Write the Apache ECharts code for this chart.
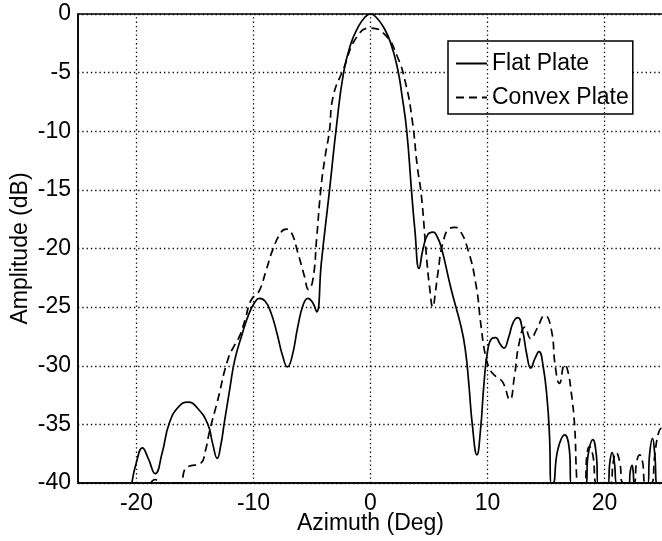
<!DOCTYPE html>
<html>
<head>
<meta charset="utf-8">
<script src="https://cdn.jsdelivr.net/npm/echarts@6/dist/echarts.min.js"></script>
<style>
html,body{margin:0;padding:0;background:#fff;}
#chart{width:662px;height:541px;}
</style>
</head>
<body>
<div id="chart"></div>
<script>
var xTicks = [-20, -10, 0, 10, 20];
var yTicks = [0, -5, -10, -15, -20, -25, -30, -35, -40];

var flatX = [-20.4, -20.0, -19.5, -19.0, -18.4, -17.8, -17.2, -16.4, -15.6, -14.8, -13.9, -13.5, -13.1, -12.8, -12.5, -12.0, -11.6, -11.0, -10.4, -9.9, -9.5, -9.0, -8.5, -8.0, -7.5, -7.1, -6.7, -6.2, -5.75, -5.35, -4.95, -4.6, -4.2, -3.5, -2.9, -2.3, -1.7, -1.1, -0.5, 0, 0.5, 1.1, 1.7, 2.3, 2.7, 3.1, 3.5, 3.8, 4.15, 4.5, 4.9, 5.35, 5.7, 6.05, 6.9, 7.75, 8.1, 8.4, 8.7, 9.1, 9.4, 9.7, 10.0, 10.35, 10.7, 11.05, 11.4, 11.8, 12.2, 12.6, 13.0, 13.35, 13.7, 14.05, 14.4, 14.75, 15.1, 15.3, 15.45, 15.6, 16.0, 16.6, 17.0, 17.15, 18.4, 18.6, 19.0, 19.3, 19.45, 20.3, 20.45, 20.65, 20.85, 21.05, 22.1, 22.2, 22.35, 22.45, 22.55, 23.7, 23.85, 24.1, 24.3, 24.5, 25.0];
var flatY = [-40, -38.2, -37.0, -37.9, -39.2, -37.4, -34.9, -33.5, -33.1, -33.6, -35.0, -36.6, -37.9, -36.8, -34.9, -31.8, -29.5, -27.4, -25.6, -24.6, -24.25, -24.5, -25.5, -27.2, -29.2, -30.1, -29.2, -26.6, -24.8, -24.25, -24.6, -25.4, -21.2, -15.0, -9.5, -5.0, -2.6, -1.2, -0.3, 0, -0.3, -1.1, -2.4, -4.6, -7.0, -10.0, -15.0, -18.5, -21.7, -20.0, -18.8, -18.6, -19.0, -19.9, -23.5, -26.7, -28.6, -31.5, -35.0, -37.6, -35.5, -31.5, -28.8, -27.7, -27.6, -28.1, -28.5, -27.6, -26.3, -25.9, -27.0, -29.0, -30.2, -29.4, -28.8, -30.0, -32.9, -36.0, -40, -40, -37.2, -35.9, -37.2, -40, -40, -37.6, -36.3, -37.6, -40, -40, -38.3, -37.4, -38.3, -40, -40, -39.0, -38.5, -39.0, -40, -40, -37.6, -36.2, -37.6, -40, -40];

var convexX = [-18.8, -18.4, -18.0, -16.3, -15.9, -15.6, -14.5, -14.1, -13.76, -13.05, -12.2, -11.6, -11.2, -10.7, -10.3, -9.9, -9.5, -8.9, -8.35, -7.63, -7.2, -6.78, -6.2, -5.64, -5.3, -4.93, -4.59, -4.25, -3.9, -3.5, -3.25, -2.28, -1.14, 0, 1.28, 2.28, 3.0, 3.56, 4.0, 4.35, 4.76, 5.05, 5.33, 5.55, 5.76, 6.19, 6.75, 7.2, 7.6, 8.3, 9.0, 9.46, 9.8, 10.2, 10.7, 11.3, 11.9, 12.3, 12.7, 13.2, 13.7, 14.2, 14.9, 15.45, 15.8, 16.15, 16.6, 16.85, 17.15, 17.45, 17.6, 17.7, 18.3, 18.5, 18.7, 19.0, 19.35, 20.5, 20.75, 21.0, 21.3, 21.6, 22.5, 22.75, 23.0, 23.25, 23.5, 24.0, 24.3, 24.6, 24.9, 25.0];
var convexY = [-40, -39.7, -40, -40, -38.9, -38.6, -38.3, -37.2, -35.6, -32.9, -29.5, -28.2, -27.5, -26.0, -24.6, -24.0, -23.6, -21.8, -20.1, -18.6, -18.35, -18.6, -20.4, -22.4, -23.5, -22.7, -19.0, -15.0, -12.3, -9.9, -7.3, -4.6, -1.9, -1.2, -1.8, -3.6, -5.9, -9.0, -13.0, -15.5, -20.4, -23.3, -25.0, -23.7, -22.1, -19.5, -18.3, -18.2, -18.4, -20.0, -23.0, -26.7, -29.0, -30.3, -30.9, -31.4, -32.9, -30.9, -28.1, -26.7, -27.7, -26.9, -25.7, -26.9, -30.1, -31.5, -29.9, -30.4, -32.2, -35.2, -39.1, -40, -40, -37.6, -36.9, -37.6, -40, -40, -38.2, -37.4, -38.2, -40, -40, -38.2, -37.6, -38.2, -40, -40, -37.6, -35.8, -35.3, -35.6];

function pairs(xs, ys) {
  var out = [];
  for (var i = 0; i < xs.length; i++) out.push([xs[i], ys[i]]);
  return out;
}

var FONT = '"Liberation Sans", Arial, Helvetica, sans-serif';
var chart = echarts.init(document.getElementById('chart'), null, {renderer: 'canvas'});
chart.setOption({
  backgroundColor: '#fff',
  animation: false,
  textStyle: {fontFamily: FONT, color: '#000'},
  grid: {left: 78, top: 14, right: -1, bottom: 58, containLabel: false, outerBoundsMode: 'none',
    show: true, borderColor: '#000', borderWidth: 1.5, backgroundColor: 'transparent'},
  legend: {
    show: true,
    orient: 'vertical',
    left: 448, top: 41,
    padding: [11, 4, 5, 7],
    itemWidth: 31, itemHeight: 24, itemGap: 11,
    borderColor: '#000', borderWidth: 1.5,
    backgroundColor: '#fff',
    itemStyle: {opacity: 0},
    textStyle: {fontSize: 23, fontFamily: FONT, color: '#000'},
    data: ['Flat Plate', 'Convex Plate']
  },
  xAxis: {
    type: 'value', min: -25, max: 25, interval: 5,
    name: 'Azimuth (Deg)', nameLocation: 'middle', nameGap: 29, nameMoveOverlap: false,
    nameTextStyle: {fontSize: 23, fontFamily: FONT, color: '#000'},
    axisLine: {show: true, onZero: false, lineStyle: {color: '#000', width: 1.5}},
    axisTick: {show: false},
    axisLabel: {fontSize: 23, fontFamily: FONT, color: '#000', margin: 9,
      formatter: function (v) { return xTicks.indexOf(v) >= 0 ? String(v) : ''; }},
    splitLine: {show: false}
  },
  yAxis: {
    type: 'value', min: -40, max: 0, interval: 5,
    name: 'Amplitude (dB)', nameLocation: 'middle', nameGap: 46, nameMoveOverlap: false,
    nameTextStyle: {fontSize: 23, fontFamily: FONT, color: '#000'},
    axisLine: {show: true, onZero: false, lineStyle: {color: '#000', width: 1.5}},
    axisTick: {show: false},
    axisLabel: {fontSize: 23, fontFamily: FONT, color: '#000', margin: 7,
      formatter: function (v) { return yTicks.indexOf(v) >= 0 ? String(v) : ''; }},
    splitLine: {show: true, lineStyle: {color: '#000', width: 1.3, type: [1.3, 3]}}
  },
  series: [
    {
      name: 'grid-x', type: 'line', silent: true, symbol: 'none', data: [],
      markLine: {
        silent: true, symbol: 'none', label: {show: false},
        lineStyle: {color: '#000', width: 1.3, type: [1.3, 3]},
        data: xTicks.map(function (v) { return {xAxis: v}; })
      }
    },
    {
      name: 'Flat Plate', type: 'line', symbol: 'none', showSymbol: false, smooth: 0.5,
      clip: true,
      lineStyle: {color: '#000', width: 1.7, type: 'solid'},
      itemStyle: {color: '#000'},
      data: pairs(flatX, flatY)
    },
    {
      name: 'Convex Plate', type: 'line', symbol: 'none', showSymbol: false, smooth: 0.5,
      clip: true,
      lineStyle: {color: '#000', width: 1.7, type: [8, 5]},
      itemStyle: {color: '#000'},
      data: pairs(convexX, convexY)
    }
  ]
});
</script>
</body>
</html>
